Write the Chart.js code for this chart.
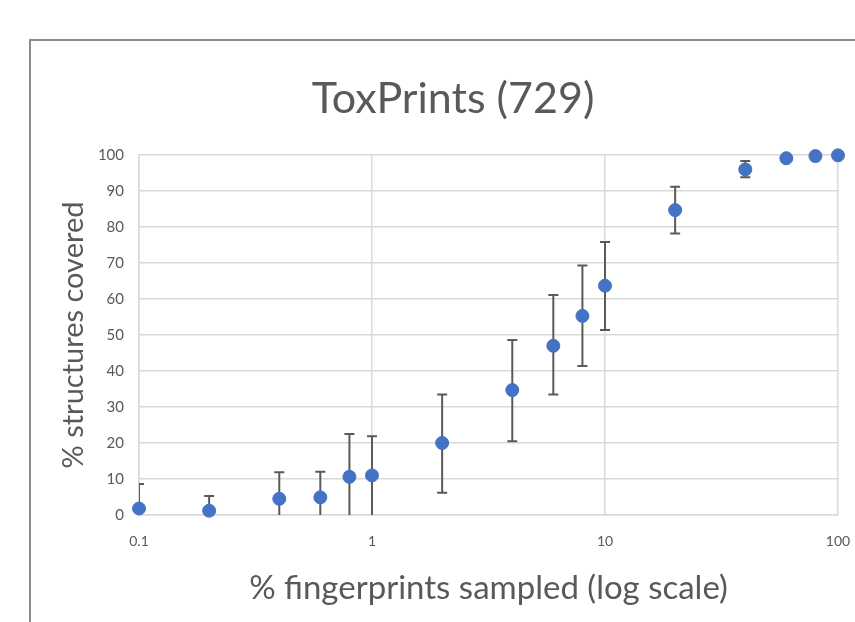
<!DOCTYPE html>
<html>
<head>
<meta charset="utf-8">
<script src="https://cdn.jsdelivr.net/npm/chart.js@4/dist/chart.umd.min.js"></script>
<style>
  html, body { margin: 0; padding: 0; background: #ffffff; }
  #wrap { position: relative; width: 855px; height: 622px; overflow: hidden; }
  #frame { position: absolute; left: 29px; top: 39px; width: 900px; height: 700px;
           border: 2px solid #8c8c8c; box-sizing: border-box; }
  canvas { position: absolute; left: 0; top: 0; }
</style>
</head>
<body>
<div id="wrap">
  <div id="frame"></div>
  <canvas id="c" width="855" height="622"></canvas>
</div>
<script>
// ---- data ----
const titleText = 'ToxPrints (729)';
const xAxisTitle = '% fingerprints sampled (log scale)';
const yAxisTitle = '% structures covered';
const xTickValues = [0.1, 1, 10, 100];
const pctSampled = [0.1, 0.2, 0.4, 0.6, 0.8, 1, 2, 4, 6, 8, 10, 20, 40, 60, 80, 100];
const pctCovered = [1.8, 1.2, 4.5, 4.9, 10.6, 11.0, 20.0, 34.7, 47.0, 55.3, 63.7, 84.7, 96.0, 99.1, 99.7, 99.9];
const errUpper   = [6.8, 4.1, 7.4, 7.1, 11.9, 10.9, 13.5, 13.9, 14.1, 14.0, 12.1, 6.5, 2.3, 0, 0, 0];
const errLower   = [6.8, 4.1, 7.4, 7.1, 11.9, 11.5, 13.8, 14.2, 13.5, 13.9, 12.3, 6.5, 2.2, 0, 0, 0];

const points = pctSampled.map((x, i) => ({ x: x, y: pctCovered[i] }));

const textColor = '#595959';
const fontFam = 'Lato, "Open Sans", sans-serif';

const errorBars = {
  id: 'errorBars',
  beforeDatasetsDraw(chart) {
    const { ctx, chartArea, scales } = chart;
    const xs = scales.x, ys = scales.y;
    ctx.save();
    ctx.beginPath();
    ctx.rect(chartArea.left, chartArea.top, chartArea.right - chartArea.left, chartArea.bottom - chartArea.top);
    ctx.clip();
    ctx.strokeStyle = '#5a5a5a';
    ctx.lineWidth = 2;
    const cap = 5;
    pctSampled.forEach((xv, i) => {
      if (!errUpper[i] && !errLower[i]) return;
      const px = xs.getPixelForValue(xv);
      const top = ys.getPixelForValue(pctCovered[i] + errUpper[i]);
      const bot = ys.getPixelForValue(pctCovered[i] - errLower[i]);
      ctx.beginPath();
      ctx.moveTo(px, top); ctx.lineTo(px, bot);
      ctx.moveTo(px - cap, top); ctx.lineTo(px + cap, top);
      ctx.moveTo(px - cap, bot); ctx.lineTo(px + cap, bot);
      ctx.stroke();
    });
    ctx.restore();
  }
};

new Chart(document.getElementById('c'), {
  type: 'scatter',
  data: {
    datasets: [{
      label: 'coverage',
      data: points,
      backgroundColor: '#4472C4',
      borderColor: '#4472C4',
      pointRadius: 6.5,
      pointHoverRadius: 6.5,
      clip: false
    }]
  },
  plugins: [errorBars],
  options: {
    responsive: false,
    animation: false,
    events: [],
    layout: { padding: { left: 68, right: 17, top: 58, bottom: 8 } },
    plugins: {
      legend: { display: false },
      tooltip: { enabled: false },
      title: {
        display: true,
        text: titleText,
        color: textColor,
        font: { family: fontFam, size: 43, weight: '400' },
        padding: { top: 15, bottom: 30.4 }
      }
    },
    scales: {
      x: {
        type: 'logarithmic',
        min: 0.1,
        max: 100,
        afterBuildTicks(scale) { scale.ticks = xTickValues.map(v => ({ value: v })); },
        afterFit(scale) { scale.height = 99; scale.paddingLeft = 0; scale.paddingRight = 0; },
        ticks: {
          color: textColor,
          font: { family: fontFam, size: 14 },
          padding: 18,
          maxRotation: 0,
          callback: (v) => String(v)
        },
        grid: { color: '#d9d9d9', lineWidth: 1.5, drawTicks: false },
        border: { color: '#d9d9d9', width: 1.5 },
        title: {
          display: true,
          text: xAxisTitle,
          color: textColor,
          font: { family: fontFam, size: 33 },
          padding: { top: 0, bottom: 6 }
        }
      },
      y: {
        min: 0,
        max: 100,
        afterFit(scale) { scale.width = 71; scale.paddingTop = 0; scale.paddingBottom = 0; },
        ticks: {
          stepSize: 10,
          color: textColor,
          font: { family: fontFam, size: 15 },
          padding: 15
        },
        grid: { color: '#d9d9d9', lineWidth: 1.5, drawTicks: false },
        border: { color: '#d9d9d9', width: 1.5 },
        title: {
          display: true,
          text: yAxisTitle,
          color: textColor,
          font: { family: fontFam, size: 29, lineHeight: 0.4 },
          padding: { top: 0, bottom: 0 }
        }
      }
    }
  }
});
</script>
</body>
</html>
